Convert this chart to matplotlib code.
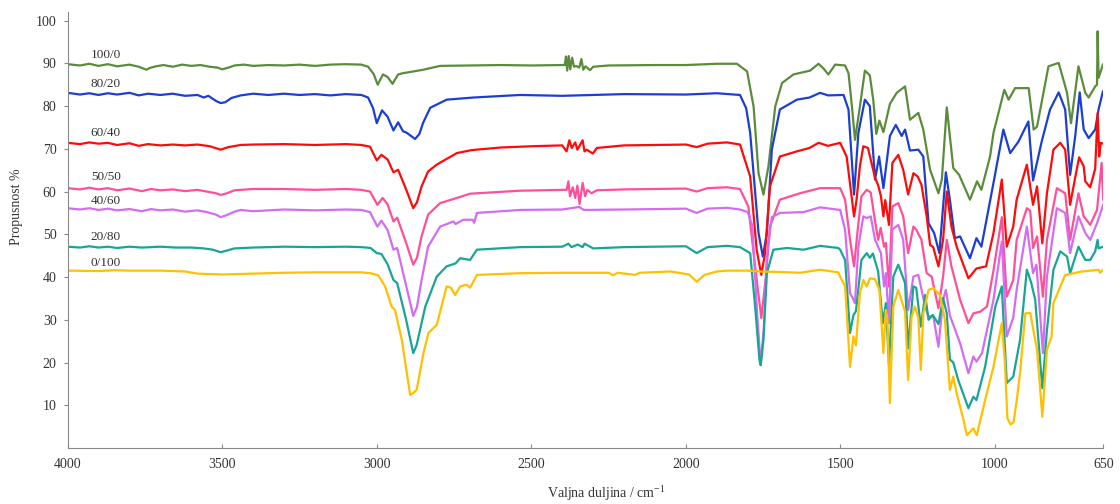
import matplotlib
matplotlib.use("Agg")
import matplotlib.pyplot as plt

plt.rcParams['font.family'] = ['Liberation Serif', 'DejaVu Serif']
plt.rcParams['mathtext.fontset'] = 'custom'
plt.rcParams['mathtext.rm'] = 'Liberation Serif'
plt.rcParams['mathtext.it'] = 'Liberation Serif:italic'

# (wavenumber cm-1, transmittance %)
s_100_0 = [(4000, 89.8), (3960, 89.5), (3930, 89.9), (3900, 89.4), (3870, 89.8), (3840, 89.3), (3800, 89.7),
           (3770, 89.2), (3745, 88.5), (3735, 88.9), (3715, 89.3), (3690, 89.6), (3660, 89.2), (3630, 89.7),
           (3600, 89.4), (3570, 89.6), (3540, 89.2), (3515, 89.0), (3500, 88.6), (3480, 89.0), (3460, 89.5),
           (3430, 89.7), (3400, 89.4), (3350, 89.6), (3300, 89.5), (3250, 89.7), (3200, 89.4), (3150, 89.7),
           (3100, 89.8), (3050, 89.7), (3028, 89.2), (3010, 87.5), (2997, 85.0), (2980, 87.4), (2965, 86.8),
           (2949, 85.2), (2931, 87.4), (2915, 87.7), (2890, 88.0), (2850, 88.5), (2795, 89.4), (2700, 89.5),
           (2600, 89.6), (2500, 89.5), (2400, 89.6), (2392, 89.6), (2388, 91.6), (2384, 88.3), (2379, 91.7),
           (2374, 88.6), (2368, 91.3), (2362, 89.2), (2355, 89.4), (2345, 89.0), (2338, 91.0), (2332, 88.5),
           (2325, 89.3), (2310, 88.4), (2300, 89.2), (2250, 89.5), (2100, 89.6), (2000, 89.6), (1900, 89.9),
           (1835, 89.9), (1802, 88.1), (1781, 79.9), (1765, 64.3), (1749, 59.3), (1733, 65.9), (1711, 79.9),
           (1689, 85.4), (1652, 87.4), (1598, 88.3), (1571, 89.9), (1555, 88.8), (1539, 87.4), (1517, 89.7),
           (1485, 89.5), (1474, 87.7), (1463, 80.0), (1453, 72.1), (1437, 79.9), (1421, 88.3), (1405, 87.2),
           (1394, 81.5), (1384, 73.5), (1374, 76.6), (1361, 73.9), (1340, 80.5), (1318, 83.1), (1291, 84.6),
           (1275, 76.8), (1248, 78.4), (1232, 74.5), (1210, 65.1), (1183, 59.6), (1172, 62.8), (1156, 79.7),
           (1135, 65.5), (1116, 63.9), (1081, 58.1), (1058, 62.4), (1044, 60.4), (1016, 68.2), (1005, 73.7),
           (970, 83.8), (956, 81.5), (935, 84.2), (891, 84.2), (875, 74.5), (864, 75.2), (827, 89.3),
           (794, 90.1), (767, 83.1), (754, 76.0), (730, 89.3), (708, 83.1), (697, 82.0), (676, 84.6),
           (670, 85.0), (668, 97.5), (665, 86.6), (651, 89.7)]

s_80_20 = [(4000, 83.1), (3960, 82.7), (3930, 83.0), (3900, 82.6), (3870, 83.0), (3840, 82.7), (3800, 83.1),
           (3770, 82.5), (3740, 82.9), (3700, 82.6), (3660, 82.9), (3620, 82.4), (3580, 82.6), (3560, 82.0),
           (3545, 82.4), (3520, 81.2), (3505, 80.7), (3490, 80.9), (3470, 81.9), (3440, 82.5), (3400, 82.9),
           (3350, 82.6), (3300, 82.9), (3250, 82.6), (3200, 82.8), (3150, 82.5), (3100, 82.8), (3050, 82.6),
           (3028, 82.0), (3012, 79.5), (3000, 76.0), (2983, 79.0), (2965, 77.5), (2946, 74.3), (2931, 76.2),
           (2915, 74.1), (2904, 73.8), (2876, 72.3), (2862, 73.5), (2850, 76.1), (2827, 79.6), (2774, 81.5),
           (2688, 82.0), (2536, 82.6), (2400, 82.4), (2300, 82.6), (2200, 82.8), (2000, 82.7), (1900, 83.0),
           (1825, 82.6), (1805, 79.5), (1792, 73.7), (1765, 50.3), (1751, 44.8), (1738, 50.3), (1722, 69.8),
           (1696, 79.2), (1641, 81.5), (1600, 82.0), (1566, 83.1), (1540, 82.5), (1490, 82.6), (1474, 79.2),
           (1456, 59.3), (1442, 73.7), (1421, 81.5), (1405, 80.0), (1388, 62.8), (1375, 68.2), (1361, 60.8),
           (1340, 73.0), (1321, 75.6), (1302, 73.0), (1291, 74.5), (1275, 69.6), (1248, 69.8), (1232, 68.2),
           (1215, 52.6), (1197, 50.3), (1180, 45.6), (1159, 64.5), (1146, 58.1), (1130, 49.1), (1113, 49.5),
           (1081, 44.4), (1060, 49.1), (1044, 47.1), (1005, 62.0), (973, 74.5), (951, 69.0), (924, 71.7),
           (892, 76.4), (877, 62.6), (849, 71.7), (822, 79.2), (794, 83.2), (773, 79.2), (757, 63.9),
           (740, 73.3), (726, 83.2), (713, 74.5), (697, 72.5), (676, 74.5), (665, 79.2), (651, 83.4)]

s_60_40 = [(4000, 71.4), (3960, 71.1), (3930, 71.5), (3900, 71.2), (3870, 71.4), (3840, 70.9), (3800, 71.3),
           (3770, 70.7), (3740, 71.1), (3700, 70.8), (3660, 71.0), (3620, 70.8), (3580, 71.0), (3540, 70.6),
           (3505, 69.8), (3480, 70.4), (3440, 70.9), (3400, 71.0), (3300, 71.1), (3200, 70.9), (3100, 71.1),
           (3050, 70.9), (3022, 70.5), (3000, 67.3), (2985, 68.6), (2965, 67.5), (2946, 64.5), (2931, 65.1),
           (2905, 60.5), (2882, 56.1), (2870, 57.5), (2855, 61.2), (2834, 64.7), (2806, 66.3), (2741, 69.0),
           (2693, 69.7), (2600, 70.3), (2500, 70.6), (2400, 70.8), (2386, 69.4), (2377, 72.0), (2369, 70.2),
           (2358, 71.5), (2351, 69.8), (2334, 72.0), (2328, 69.4), (2321, 69.8), (2301, 68.9), (2288, 70.2),
           (2200, 70.8), (2100, 70.9), (2000, 71.0), (1965, 70.4), (1930, 71.2), (1867, 71.5), (1825, 71.0),
           (1792, 63.5), (1771, 46.4), (1756, 40.5), (1744, 45.6), (1728, 61.2), (1696, 68.2), (1641, 69.4),
           (1600, 70.2), (1571, 71.4), (1540, 70.7), (1501, 71.4), (1480, 68.2), (1456, 54.2), (1448, 58.0),
           (1437, 66.0), (1426, 70.6), (1411, 70.2), (1388, 63.2), (1378, 61.5), (1369, 58.9), (1361, 54.2),
           (1355, 58.0), (1343, 52.2), (1332, 66.7), (1313, 68.6), (1297, 65.1), (1281, 59.3), (1264, 64.3),
           (1250, 63.5), (1238, 61.6), (1221, 54.2), (1210, 47.5), (1200, 47.0), (1183, 42.5), (1168, 48.7),
           (1156, 60.0), (1141, 51.8), (1124, 47.1), (1086, 39.7), (1060, 42.0), (1029, 42.5), (1005, 50.3),
           (978, 62.8), (962, 47.1), (941, 51.8), (930, 58.1), (897, 66.3), (877, 56.9), (864, 61.2),
           (847, 47.9), (832, 59.6), (811, 69.8), (789, 71.4), (773, 69.8), (757, 56.9), (740, 63.5),
           (728, 68.0), (713, 65.9), (708, 62.4), (692, 61.0), (676, 65.3), (668, 78.4), (663, 68.2),
           (658, 71.4), (650, 71.2)]

s_50_50 = [(4000, 60.8), (3960, 60.5), (3930, 60.9), (3900, 60.5), (3870, 60.8), (3840, 60.3), (3800, 60.7),
           (3760, 60.1), (3730, 60.6), (3700, 60.3), (3660, 60.5), (3620, 60.1), (3580, 60.4), (3550, 60.0),
           (3520, 59.6), (3505, 59.2), (3485, 59.6), (3460, 60.3), (3400, 60.6), (3300, 60.6), (3200, 60.4),
           (3100, 60.6), (3050, 60.4), (3022, 60.0), (2998, 56.9), (2981, 58.5), (2965, 57.0), (2946, 53.0),
           (2934, 53.9), (2905, 48.0), (2882, 42.9), (2870, 44.5), (2855, 49.5), (2834, 54.6), (2795, 57.3),
           (2741, 58.5), (2698, 59.5), (2536, 60.2), (2400, 60.4), (2386, 60.4), (2380, 62.4), (2375, 58.9),
           (2366, 61.0), (2358, 58.5), (2351, 61.4), (2344, 57.1), (2334, 62.0), (2326, 58.9), (2319, 60.4),
           (2305, 59.6), (2288, 60.3), (2200, 60.5), (2100, 60.6), (2000, 60.7), (1965, 60.0), (1930, 60.8),
           (1867, 61.0), (1825, 60.6), (1798, 56.5), (1776, 42.5), (1756, 30.4), (1741, 40.2), (1728, 51.8),
           (1696, 58.1), (1631, 59.6), (1566, 60.8), (1501, 60.8), (1485, 58.1), (1469, 48.7), (1456, 42.5),
           (1442, 52.6), (1432, 58.9), (1415, 60.4), (1402, 59.8), (1388, 53.0), (1378, 48.7), (1370, 51.5),
           (1359, 47.1), (1353, 48.0), (1343, 37.8), (1332, 56.5), (1313, 57.3), (1297, 54.2), (1281, 45.6),
           (1264, 51.8), (1254, 51.0), (1238, 48.7), (1221, 40.9), (1205, 40.1), (1183, 32.7), (1168, 40.1),
           (1156, 48.7), (1141, 42.5), (1113, 34.7), (1086, 29.2), (1070, 31.5), (1048, 31.9), (1026, 33.1),
           (1005, 41.5), (978, 54.0), (962, 35.4), (941, 39.3), (930, 48.7), (897, 56.1), (886, 55.5),
           (877, 46.8), (864, 49.5), (845, 35.4), (832, 48.7), (800, 60.8), (773, 59.6), (757, 48.7),
           (730, 59.6), (713, 54.2), (692, 52.2), (670, 55.7), (655, 66.7), (650, 58.1)]

s_40_60 = [(4000, 56.1), (3960, 55.8), (3930, 56.1), (3900, 55.7), (3870, 56.0), (3840, 55.6), (3800, 55.9),
           (3760, 55.4), (3730, 55.9), (3700, 55.6), (3660, 55.8), (3620, 55.3), (3580, 55.6), (3550, 55.2),
           (3520, 54.6), (3505, 54.0), (3485, 54.5), (3460, 55.3), (3440, 55.7), (3400, 55.4), (3300, 55.8),
           (3200, 55.6), (3100, 55.8), (3050, 55.7), (3022, 55.2), (2998, 51.8), (2985, 53.2), (2965, 51.0),
           (2946, 46.4), (2934, 46.8), (2905, 38.0), (2882, 30.9), (2870, 33.0), (2855, 39.3), (2834, 47.1),
           (2795, 51.8), (2752, 53.0), (2745, 52.4), (2720, 53.4), (2690, 53.4), (2685, 52.7), (2676, 55.0),
           (2536, 55.7), (2400, 55.8), (2345, 56.4), (2330, 55.7), (2200, 55.8), (2000, 56.0), (1965, 55.0),
           (1930, 56.0), (1867, 56.2), (1825, 55.8), (1800, 55.2), (1785, 52.0), (1770, 32.0), (1758, 19.4),
           (1748, 28.0), (1738, 45.0), (1722, 54.0), (1696, 55.0), (1619, 55.2), (1566, 56.3), (1501, 55.7),
           (1485, 51.1), (1469, 36.2), (1460, 35.0), (1453, 33.9), (1442, 47.1), (1426, 54.2), (1415, 53.8),
           (1402, 54.2), (1388, 48.7), (1369, 45.6), (1359, 37.8), (1353, 40.9), (1343, 29.2), (1332, 51.1),
           (1313, 52.2), (1297, 48.7), (1281, 32.3), (1264, 40.1), (1248, 40.5), (1226, 33.1), (1215, 30.7),
           (1200, 31.0), (1183, 23.7), (1168, 34.7), (1159, 37.0), (1146, 31.0), (1113, 24.5), (1086, 17.5),
           (1070, 21.4), (1060, 20.2), (1042, 22.2), (1005, 34.7), (978, 48.3), (962, 26.1), (941, 30.5),
           (930, 37.0), (897, 51.8), (877, 40.9), (866, 42.9), (845, 22.2), (832, 40.1), (800, 56.1),
           (773, 55.0), (757, 45.6), (730, 54.2), (708, 50.3), (692, 48.7), (670, 52.6), (650, 56.9)]

s_20_80 = [(4000, 47.1), (3960, 46.9), (3930, 47.2), (3900, 46.9), (3870, 47.1), (3840, 46.8), (3800, 47.1),
           (3760, 46.9), (3700, 47.1), (3650, 46.9), (3600, 46.9), (3560, 46.7), (3530, 46.4), (3505, 45.8),
           (3485, 46.2), (3460, 46.7), (3400, 46.9), (3300, 47.1), (3200, 47.0), (3100, 47.1), (3050, 47.0),
           (3020, 46.8), (3000, 45.6), (2985, 45.4), (2965, 43.0), (2946, 39.3), (2934, 38.6), (2905, 30.0),
           (2882, 22.2), (2871, 24.1), (2843, 33.1), (2806, 40.1), (2774, 42.5), (2745, 43.2), (2730, 44.4),
           (2698, 44.0), (2676, 46.4), (2536, 47.0), (2400, 47.1), (2380, 47.8), (2370, 47.0), (2350, 47.6),
           (2334, 47.0), (2328, 47.8), (2300, 46.7), (2200, 47.0), (2000, 47.2), (1965, 45.6), (1930, 47.0),
           (1867, 47.3), (1825, 47.0), (1792, 45.6), (1776, 33.1), (1762, 20.6), (1758, 19.4), (1749, 25.3),
           (1738, 40.9), (1717, 46.4), (1673, 46.8), (1619, 46.4), (1566, 47.3), (1507, 46.8), (1501, 46.4),
           (1485, 44.0), (1469, 26.9), (1458, 31.1), (1450, 32.0), (1432, 44.0), (1415, 45.6), (1405, 44.5),
           (1395, 45.5), (1378, 41.3), (1363, 29.2), (1353, 33.9), (1343, 19.4), (1329, 40.1), (1313, 42.9),
           (1291, 38.6), (1281, 23.3), (1264, 37.8), (1255, 37.5), (1240, 28.4), (1226, 35.8), (1215, 30.0),
           (1201, 31.1), (1183, 29.0), (1168, 35.1), (1156, 31.5), (1146, 20.7), (1135, 20.0), (1119, 15.9),
           (1086, 9.3), (1070, 12.0), (1060, 11.2), (1032, 19.0), (999, 33.1), (978, 37.8), (962, 15.2),
           (941, 16.7), (919, 25.3), (897, 41.7), (883, 38.7), (870, 34.7), (847, 14.0), (832, 27.6),
           (811, 41.7), (789, 46.0), (767, 44.8), (757, 40.9), (740, 44.8), (730, 47.1), (708, 44.0),
           (692, 44.0), (676, 46.0), (668, 48.7), (665, 46.7), (650, 47.1)]

s_0_100 = [(4000, 41.5), (3900, 41.4), (3850, 41.6), (3800, 41.5), (3700, 41.5), (3620, 41.3), (3580, 40.8),
           (3500, 40.6), (3400, 40.8), (3300, 41.0), (3200, 41.1), (3100, 41.1), (3050, 41.1), (3020, 40.9),
           (2995, 40.4), (2973, 37.8), (2952, 33.1), (2941, 32.3), (2919, 25.3), (2892, 12.4), (2880, 13.0),
           (2871, 13.6), (2849, 22.2), (2833, 26.9), (2806, 28.8), (2774, 37.8), (2760, 37.5), (2747, 35.8),
           (2730, 37.8), (2710, 38.2), (2698, 37.5), (2676, 40.5), (2536, 40.9), (2400, 41.0), (2250, 41.0),
           (2236, 40.4), (2220, 41.0), (2164, 40.5), (2150, 41.0), (2050, 41.3), (1990, 40.6), (1965, 38.9),
           (1940, 40.5), (1900, 41.3), (1867, 41.5), (1800, 41.5), (1760, 41.3), (1700, 41.2), (1631, 41.0),
           (1566, 41.7), (1507, 41.1), (1501, 40.1), (1485, 37.8), (1469, 19.0), (1458, 26.1), (1450, 24.0),
           (1437, 36.2), (1426, 39.3), (1415, 37.8), (1405, 39.7), (1388, 39.5), (1374, 37.0), (1361, 22.2),
           (1353, 32.3), (1348, 30.0), (1340, 10.5), (1329, 33.1), (1313, 37.0), (1291, 31.9), (1281, 15.9),
           (1270, 30.7), (1259, 33.1), (1248, 30.4), (1240, 18.3), (1232, 31.5), (1215, 37.0), (1200, 37.4),
           (1178, 35.8), (1162, 30.0), (1146, 13.6), (1135, 16.7), (1124, 12.8), (1102, 6.6), (1091, 3.0),
           (1070, 4.6), (1059, 3.0), (1032, 11.2), (1005, 19.0), (978, 29.2), (968, 20.0), (960, 7.0),
           (950, 5.5), (940, 6.0), (930, 11.0), (919, 17.5), (902, 31.5), (886, 31.6), (878, 28.4),
           (864, 23.0), (847, 7.3), (832, 23.0), (817, 26.1), (811, 33.9), (773, 40.5), (757, 40.7),
           (719, 41.3), (665, 41.7), (660, 41.0), (650, 41.7)]

labels = ['100/0', '80/20', '60/40', '50/50', '40/60', '20/80', '0/100']
label_y = [92.0, 85.2, 73.7, 63.5, 57.8, 49.3, 43.3]
series = [s_100_0, s_80_20, s_60_40, s_50_50, s_40_60, s_20_80, s_0_100]
colors = ['#5b8c3c', '#1c3fd0', '#ff0a0a', '#ff4f98', '#d46cf2', '#18a596', '#ffc000']

x_ticks = [4000, 3500, 3000, 2500, 2000, 1500, 1000, 650]
y_ticks = [10, 20, 30, 40, 50, 60, 70, 80, 90, 100]

fig = plt.figure(figsize=(11.2, 5.04), dpi=100)
ax = fig.add_axes([0.0604, 0.1111, 0.9246, 0.865])

for s, c in zip(series, colors):
    wn, t = zip(*s)
    ax.plot(wn, t, color=c, lw=1.6, solid_joinstyle='round')

for lab, y in zip(labels, label_y):
    ax.text(3925, y, lab, fontsize=9.5, color='#333333', va='center', ha='left')

ax.set_xlim(4000, 650)
ax.set_ylim(0, 102)
ax.set_xticks(x_ticks)
ax.set_yticks(y_ticks)
ax.tick_params(axis='x', direction='in', length=3, pad=7, labelsize=10, colors='#898989', labelcolor='#333333')
ax.tick_params(axis='y', direction='out', length=3, pad=5, labelsize=10, colors='#898989', labelcolor='#333333')
for side in ['top', 'right']:
    ax.spines[side].set_visible(False)
for side in ['left', 'bottom']:
    ax.spines[side].set_color('#898989')

ax.set_xlabel('Valjna duljina / cm$^{-1}$', fontsize=10, color='#333333')
ax.xaxis.set_label_coords(0.52, -0.082)
ax.set_ylabel('Propusnost %', fontsize=10, color='#333333')
ax.yaxis.set_label_coords(-0.043, 0.553)

fig.savefig('out.png', dpi=100)
